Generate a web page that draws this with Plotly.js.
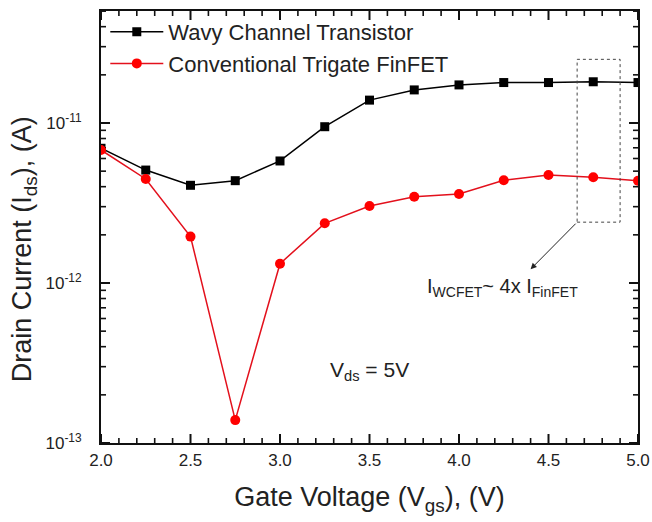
<!DOCTYPE html>
<html>
<head>
<meta charset="utf-8">
<script src="https://cdn.plot.ly/plotly-3.0.1.min.js"></script>
<style>html,body{margin:0;padding:0;background:#fff;}#chart{width:652px;height:522px;}</style>
</head>
<body>
<div id="chart"></div>
<script>
// Gate voltage (V)
const vgs = [2.0, 2.25, 2.5, 2.75, 3.0, 3.25, 3.5, 3.75, 4.0, 4.25, 4.5, 4.75, 5.0];
// Drain current (A)
const wavyChannel = [6.95e-12, 5.08e-12, 4.08e-12, 4.36e-12, 5.79e-12, 9.48e-12, 1.39e-11, 1.61e-11, 1.73e-11, 1.79e-11, 1.79e-11, 1.81e-11, 1.79e-11];
const trigateFinFET = [6.78e-12, 4.47e-12, 1.95e-12, 1.39e-13, 1.32e-12, 2.36e-12, 3.03e-12, 3.46e-12, 3.60e-12, 4.39e-12, 4.73e-12, 4.58e-12, 4.36e-12];
const seriesNames = ["Wavy Channel Transistor", "Conventional Trigate FinFET"];
// Axis ticks
const xTickVals = [2.0, 2.5, 3.0, 3.5, 4.0, 4.5, 5.0];
const xTickText = ["2.0", "2.5", "3.0", "3.5", "4.0", "4.5", "5.0"];
const yTickVals = [1e-13, 1e-12, 1e-11];
const yTickText = ["10<sup>-13</sup>", "10<sup>-12</sup>", "10<sup>-11</sup>"];
const yMinorMantissas = [2, 3, 4, 5, 6, 7, 8, 9];
// Highlight box (Vgs range, current range) and arrow tip
const boxVgs = [4.66, 4.9];
const boxCurrent = [2.4e-12, 2.5e-11];
const arrowTip = [4.40, 1.22e-12];

const FONT = "Liberation Sans, Arial, Helvetica, sans-serif";
const AX = "#111";
const X_RANGE = [2.0, 5.0];
const Y_RANGE = [-13, -10.3];
const W = 652, H = 522, M = {l: 101, r: 14, t: 11, b: 79};
const PW = W - M.l - M.r, PH = H - M.t - M.b;

const yMinorVals = [];
yTickVals.forEach(d => yMinorMantissas.forEach(m => {
  const v = m * d; if (Math.log10(v) < Y_RANGE[1]) yMinorVals.push(v);
}));
const xMinorVals = [];
for (let i = 0; i <= 30; i++) { const v = Math.round((2.0 + i * 0.1) * 10) / 10; if (Math.round(v * 10) % 5 !== 0) xMinorVals.push(v); }

// Inward tick marks on all four sides, as line segments in axis units
const xPerPx = (X_RANGE[1] - X_RANGE[0]) / PW;
const decPerPx = (Y_RANGE[1] - Y_RANGE[0]) / PH;
function tickTrace(xVals, yVals, len, width) {
  const tx = [], ty = [];
  const yLo = Math.pow(10, Y_RANGE[0]), yHi = Math.pow(10, Y_RANGE[1]);
  xVals.forEach(v => {
    tx.push(v, v, null, v, v, null);
    ty.push(yLo, Math.pow(10, Y_RANGE[0] + len * decPerPx), null, Math.pow(10, Y_RANGE[1] - len * decPerPx), yHi, null);
  });
  yVals.forEach(v => {
    tx.push(X_RANGE[0], X_RANGE[0] + len * xPerPx, null, X_RANGE[1] - len * xPerPx, X_RANGE[1], null);
    ty.push(v, v, null, v, v, null);
  });
  return {x: tx, y: ty, type: "scatter", mode: "lines", connectgaps: false, showlegend: false,
          hoverinfo: "skip", line: {color: AX, width: width}};
}

const traces = [
  tickTrace(xMinorVals, yMinorVals, 5, 1.6),
  tickTrace(xTickVals, yTickVals, 9, 2),
  {
    x: vgs, y: wavyChannel, name: seriesNames[0], type: "scatter", mode: "lines+markers",
    line: {color: "#000", width: 1.5},
    marker: {symbol: "square", size: 9, color: "#000"}
  },
  {
    x: vgs, y: trigateFinFET, name: seriesNames[1], type: "scatter", mode: "lines+markers",
    line: {color: "#e3101c", width: 1.5},
    marker: {symbol: "circle", size: 10, color: "#ff0000"}
  }
];

const layout = {
  width: W, height: H,
  margin: M,
  paper_bgcolor: "#fff", plot_bgcolor: "#fff",
  font: {family: FONT, color: "#222"},
  showlegend: true,
  legend: {
    x: 0.008, y: 1.0, xanchor: "left", yanchor: "top",
    bgcolor: "rgba(0,0,0,0)", font: {size: 22, family: FONT, color: "#222"},
    itemwidth: 53, tracegroupgap: 0
  },
  xaxis: {
    range: X_RANGE, tickmode: "array", tickvals: xTickVals, ticktext: xTickText,
    ticks: "outside", ticklen: 1, tickcolor: "rgba(0,0,0,0)",
    showline: true, linecolor: AX, linewidth: 2, mirror: true,
    showgrid: false, zeroline: false,
    tickfont: {size: 17, family: FONT, color: "#222"},
    title: {text: "Gate Voltage (V<sub>gs</sub>), (V)", font: {size: 27, family: FONT, color: "#222"}, standoff: 18}
  },
  yaxis: {
    type: "log", range: Y_RANGE, tickmode: "array", tickvals: yTickVals, ticktext: yTickText,
    ticks: "outside", ticklen: 14, tickcolor: "rgba(0,0,0,0)",
    showline: true, linecolor: AX, linewidth: 2, mirror: true,
    showgrid: false, zeroline: false,
    tickfont: {size: 17, family: FONT, color: "#222"}
  },
  shapes: [
    {type: "rect", xref: "x", yref: "y",
     x0: boxVgs[0], x1: boxVgs[1], y0: boxCurrent[0], y1: boxCurrent[1],
     line: {color: "#444", width: 1, dash: "dot"}}
  ],
  annotations: [
    {xref: "x", yref: "y", axref: "x", ayref: "y",
     x: arrowTip[0], y: Math.log10(arrowTip[1]),
     ax: boxVgs[0], ay: Math.log10(boxCurrent[0]),
     text: "", showarrow: true, arrowhead: 2, arrowsize: 1.2, arrowwidth: 1, arrowcolor: "#222"},
    {xref: "x", yref: "y", x: 3.81, y: -12.03, xanchor: "left", yanchor: "middle",
     text: "I<sub>WCFET</sub>~ 4x I<sub>FinFET</sub>", showarrow: false,
     font: {size: 20, family: FONT, color: "#222"}},
    {xref: "x", yref: "y", x: 3.27, y: -12.55, xanchor: "left", yanchor: "middle",
     text: "V<sub>ds</sub> = 5V", showarrow: false,
     font: {size: 21, family: FONT, color: "#222"}},
    {xref: "paper", yref: "paper", x: -0.143, y: 0.449, xanchor: "center", yanchor: "middle",
     textangle: -90, text: "Drain Current (I<sub>ds</sub>), (A)", showarrow: false,
     font: {size: 27, family: FONT, color: "#222"}}
  ]
};

Plotly.newPlot("chart", traces, layout, {displayModeBar: false, staticPlot: true});
</script>
</body>
</html>
